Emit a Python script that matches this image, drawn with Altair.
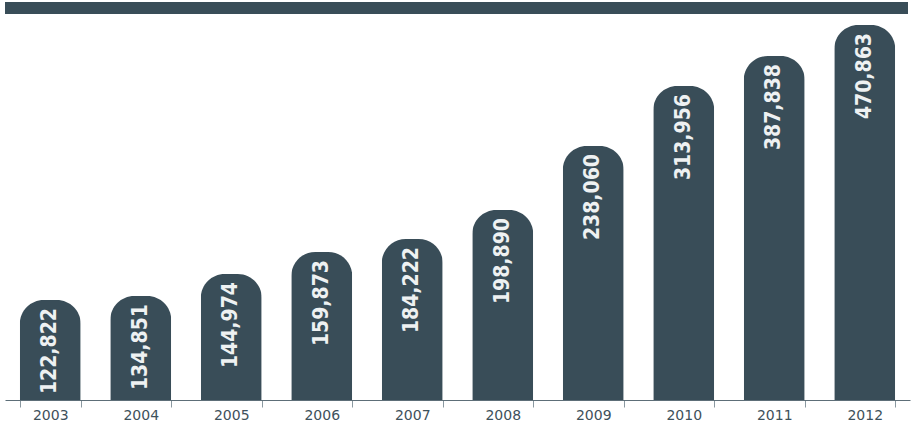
import altair as alt
import pandas as pd

# Data
years = ["2003", "2004", "2005", "2006", "2007", "2008", "2009", "2010", "2011", "2012"]
visitors = [122822, 134851, 144974, 159873, 184222, 198890, 238060, 313956, 387838, 470863]
# The infographic's bar heights are illustrative (not proportional to the values);
# relative heights
bar_height = [100, 104, 126, 148, 161, 190, 254, 314, 344, 375]

df = pd.DataFrame({
    "year": years,
    "visitors": visitors,
    "h": bar_height,
    "label": [f"{v:,}" for v in visitors],
})

BAR = "#394d58"

x_enc = alt.X(
    "year:N",
    sort=years,
    title=None,
    scale=alt.Scale(paddingInner=0.326, paddingOuter=0.163),
    axis=alt.Axis(
        tickBand="extent",
        domainColor="#5d6e78",
        tickColor="#8a98a0",
        tickSize=7,
        labelAngle=0,
        labelFontSize=14,
        labelFont="DejaVu Sans",
        labelColor="#3e515b",
        labelPadding=1,
    ),
)
y_enc = alt.Y("h:Q", scale=alt.Scale(domain=[0, 400]), axis=None)

base = alt.Chart(df)

bars = base.mark_bar(
    color=BAR, cornerRadiusTopLeft=24, cornerRadiusTopRight=24
).encode(x=x_enc, y=y_enc)

labels = base.mark_text(
    angle=270,
    align="right",
    baseline="middle",
    yOffset=8,
    font="DejaVu Sans Condensed",
    fontWeight="bold",
    fontSize=21,
    color="#eef1f2",
).encode(x=x_enc, y=y_enc, text="label:N")

band = alt.Chart(alt.Data(values=[{"a": 1}])).mark_rect(color=BAR).encode(
    x=alt.value(0), x2=alt.value(903), y=alt.value(2), y2=alt.value(14)
)

chart = alt.layer(band, bars, labels).properties(
    width=905,
    height=400,
    background="white",
    autosize=alt.AutoSizeParams(type="none"),
    padding={"left": 5, "top": 0, "right": 3, "bottom": 24},
).configure_view(stroke=None)

chart.save("out.html", embed_options={"renderer": "svg", "actions": False})
